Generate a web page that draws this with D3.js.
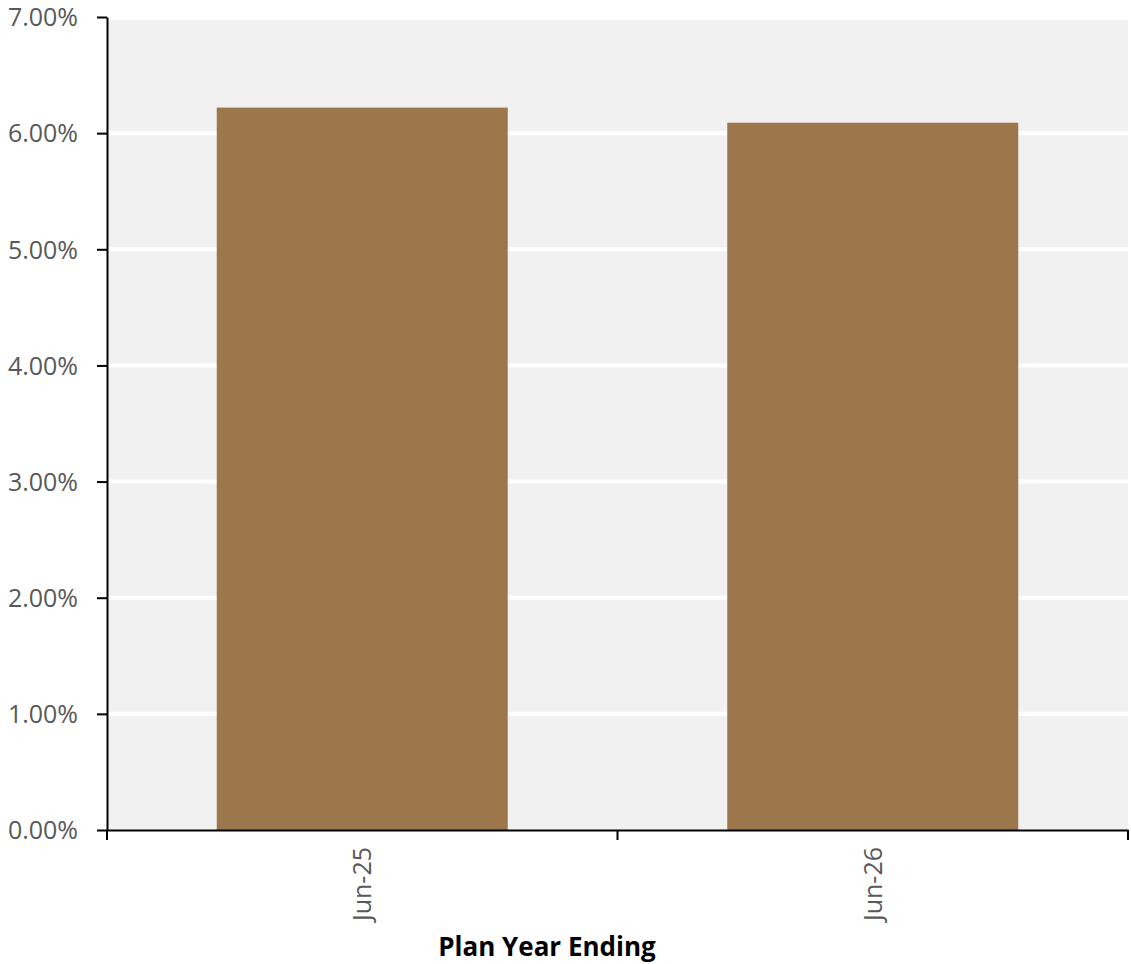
<!DOCTYPE html>
<html><head><meta charset="utf-8">
<script src="https://cdn.jsdelivr.net/npm/d3@7"></script>
<style>body{margin:0;background:#fff}svg{display:block}</style>
</head><body>
<script>
const categories = ["Jun-25", "Jun-26"];
const values = [6.22, 6.09];
const yTicks = [0, 1, 2, 3, 4, 5, 6, 7];
const xTitle = "Plan Year Ending";

(function () {
const W = 1131, H = 964;
const mLeft = 107, mRight = 1128, mTop = 17, mBottom = 830;
const svg = d3.select("body").append("svg").attr("width", W).attr("height", H);

const x = d3.scaleBand().domain(categories).range([mLeft, mRight]).padding(0);
const y = d3.scaleLinear().domain([0, 7]).range([mBottom, mTop]);

svg.append("rect").attr("x", mLeft).attr("y", mTop + 3).attr("width", mRight - mLeft).attr("height", mBottom - mTop - 3).attr("fill", "#f1f1f1");

svg.append("g").selectAll("line").data(yTicks.filter(d => d > 0 && d < 7)).join("line")
  .attr("x1", mLeft).attr("x2", mRight).attr("y1", d => y(d)).attr("y2", d => y(d))
  .attr("stroke", "#fff").attr("stroke-width", 4);

const frac = 0.57;
svg.append("g").selectAll("rect").data(categories).join("rect")
  .attr("x", (d) => x(d) + x.bandwidth() * (1 - frac) / 2)
  .attr("width", x.bandwidth() * frac)
  .attr("y", (d, i) => y(values[i]))
  .attr("height", (d, i) => mBottom - y(values[i]))
  .attr("fill", "#9d774c");

const font = "'Open Sans', sans-serif";
const yAxis = svg.append("g").attr("transform", `translate(${mLeft},0)`)
  .call(d3.axisLeft(y).tickValues(yTicks).tickFormat(d => d.toFixed(2) + "%").tickSize(10).tickSizeOuter(0).tickPadding(19));
yAxis.selectAll("text").attr("font-family", font).attr("font-size", 25).attr("fill", "#595959").attr("dy", "0.35em");
yAxis.selectAll("line, path").attr("stroke", "#000").attr("stroke-width", 2);

const xAxis = svg.append("g").attr("transform", `translate(0,${mBottom})`)
  .call(d3.axisBottom(x).tickSize(0).tickSizeOuter(0));
xAxis.select("path").attr("stroke", "#000").attr("stroke-width", 2);
xAxis.selectAll("text").attr("font-family", font).attr("font-size", 25).attr("fill", "#595959")
  .attr("text-anchor", "end").attr("transform", "rotate(-90)")
  .attr("x", -17).attr("y", 0).attr("dy", "0.35em");
const bounds = categories.map(c => x(c)).concat([mRight]);
svg.append("g").selectAll("line").data(bounds).join("line")
  .attr("x1", d => d).attr("x2", d => d).attr("y1", mBottom).attr("y2", mBottom + 10)
  .attr("stroke", "#000").attr("stroke-width", 2);

svg.append("text").attr("x", 547).attr("y", 956).attr("text-anchor", "middle")
  .attr("font-family", font).attr("font-size", 26).attr("font-weight", "bold").attr("fill", "#000").text(xTitle);
})();
</script>
</body></html>
